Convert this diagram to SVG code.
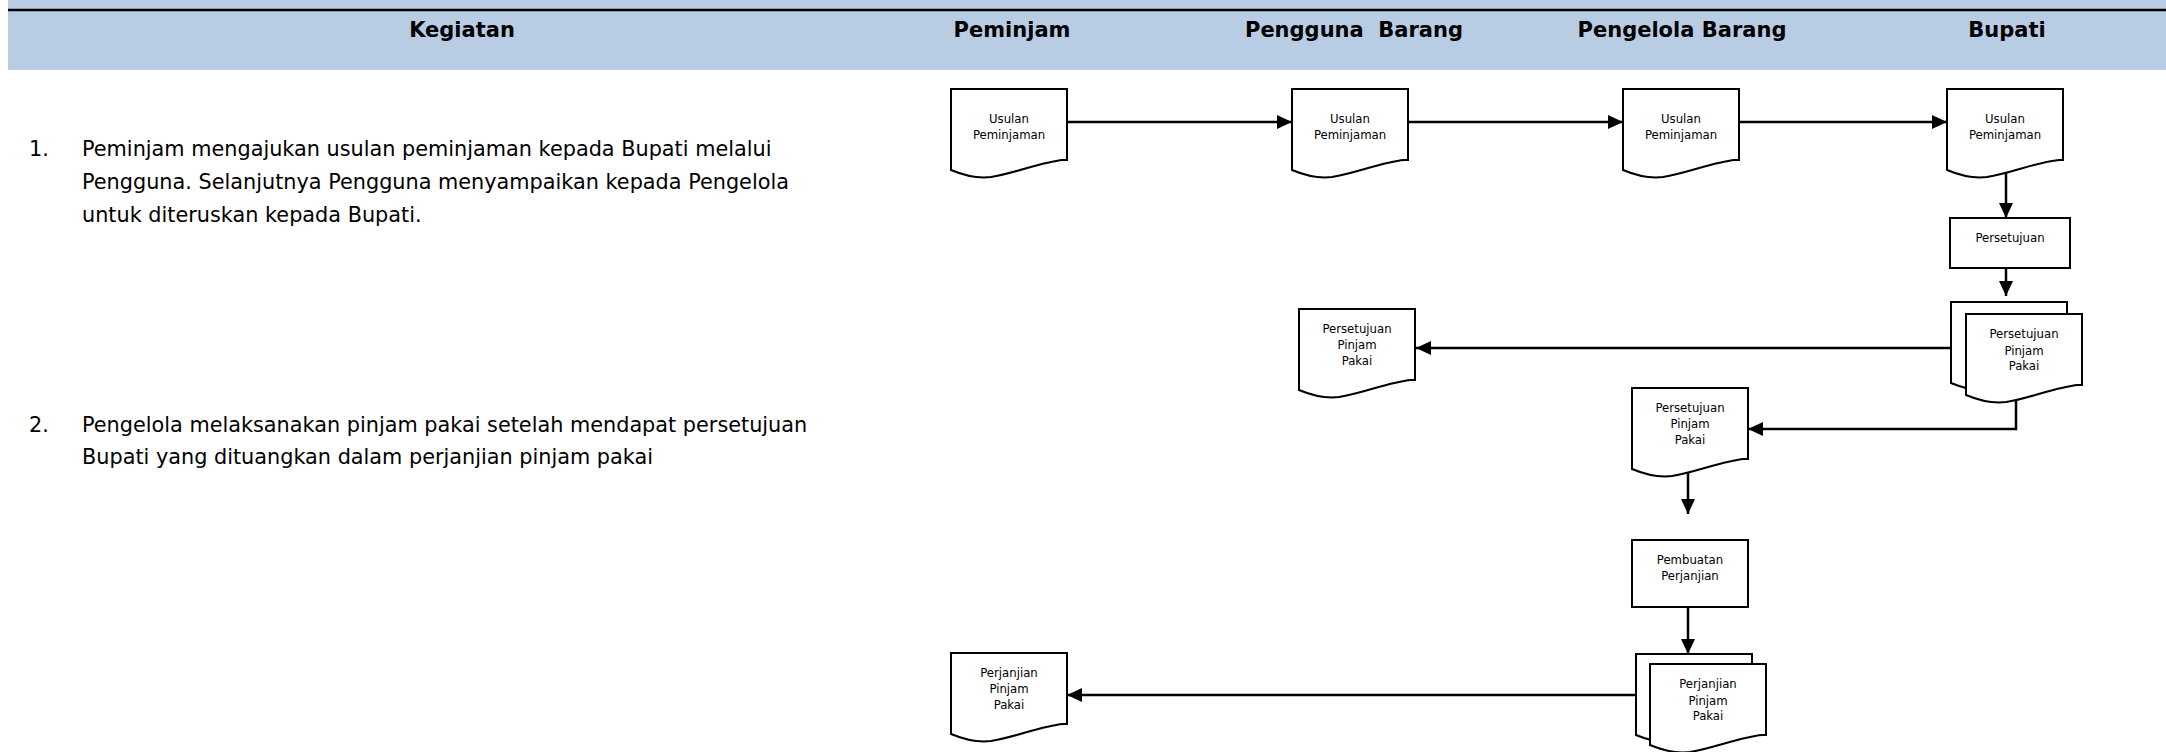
<svg xmlns="http://www.w3.org/2000/svg" xmlns:xlink="http://www.w3.org/1999/xlink" width="2166" height="752" viewBox="0 0 2166 752">
  <style>
    .band { fill: #B8CCE4; }
    .rule { stroke: #000; stroke-width: 2.5; }
    .head { font-family: "DejaVu Sans", Verdana, sans-serif; font-weight: bold; font-size: 21px; fill: #000; text-anchor: middle; }
    .body { font-family: "DejaVu Sans", Verdana, sans-serif; font-size: 20.8px; fill: #000; }
    .shape { fill: #fff; stroke: #000; stroke-width: 2; }
    .lbl { font-family: "DejaVu Sans Condensed", "DejaVu Sans", sans-serif; font-stretch: condensed; font-size: 13px; fill: #000; text-anchor: middle; }
    .conn { fill: none; stroke: #000; stroke-width: 2.5; }
  </style>
  <defs>
    <!-- flowchart "document" symbol, 116 wide, wavy bottom edge -->
    <path id="doc" d="M0,0 H116 V71 H112 C90,73 65,84 40,88 C25,90 12,86 0,81 Z"/>
    <marker id="arrow" markerUnits="userSpaceOnUse" markerWidth="16" markerHeight="14" refX="15" refY="7" orient="auto">
      <path d="M0,0 L15,7 L0,14 Z" fill="#000"/>
    </marker>
  </defs>

  <rect width="2166" height="752" fill="#fff"/>

  <!-- column headers -->
  <g id="header">
    <rect class="band" x="8" y="0" width="2158" height="70"/>
    <line class="rule" x1="8" y1="10" x2="2166" y2="10"/>
    <text class="head" x="462" y="37">Kegiatan</text>
    <text class="head" x="1012" y="37">Peminjam</text>
    <text class="head" x="1354" y="37" xml:space="preserve">Pengguna  Barang</text>
    <text class="head" x="1682" y="37">Pengelola Barang</text>
    <text class="head" x="2007" y="37">Bupati</text>
  </g>

  <!-- activity descriptions -->
  <g id="kegiatan">
    <text class="body" x="29" y="156">1.</text>
    <text class="body" x="82" y="156">Peminjam mengajukan usulan peminjaman kepada Bupati melalui</text>
    <text class="body" x="82" y="189">Pengguna. Selanjutnya Pengguna menyampaikan kepada Pengelola</text>
    <text class="body" x="82" y="222">untuk diteruskan kepada Bupati.</text>
    <text class="body" x="29" y="432">2.</text>
    <text class="body" x="82" y="432">Pengelola melaksanakan pinjam pakai setelah mendapat persetujuan</text>
    <text class="body" x="82" y="464">Bupati yang dituangkan dalam perjanjian pinjam pakai</text>
  </g>

  <!-- connectors -->
  <g id="connectors">
    <path class="conn" d="M1067,122 H1292" marker-end="url(#arrow)"/>
    <path class="conn" d="M1408,122 H1623" marker-end="url(#arrow)"/>
    <path class="conn" d="M1740,122 H1947" marker-end="url(#arrow)"/>
    <path class="conn" d="M2006,172 V218" marker-end="url(#arrow)"/>
    <path class="conn" d="M2006,268 V296" marker-end="url(#arrow)"/>
    <path class="conn" d="M1951,348 H1416" marker-end="url(#arrow)"/>
    <path class="conn" d="M2016,396 V429 H1748" marker-end="url(#arrow)"/>
    <path class="conn" d="M1688,470 V514" marker-end="url(#arrow)"/>
    <path class="conn" d="M1688,607 V654" marker-end="url(#arrow)"/>
    <path class="conn" d="M1636,695 H1067" marker-end="url(#arrow)"/>
  </g>

  <!-- nodes -->
  <g id="usulan-peminjam">
    <use xlink:href="#doc" class="shape" x="951" y="89"/>
    <text class="lbl" x="1009" y="123">Usulan</text>
    <text class="lbl" x="1009" y="139">Peminjaman</text>
  </g>
  <g id="usulan-pengguna">
    <use xlink:href="#doc" class="shape" x="1292" y="89"/>
    <text class="lbl" x="1350" y="123">Usulan</text>
    <text class="lbl" x="1350" y="139">Peminjaman</text>
  </g>
  <g id="usulan-pengelola">
    <use xlink:href="#doc" class="shape" x="1623" y="89"/>
    <text class="lbl" x="1681" y="123">Usulan</text>
    <text class="lbl" x="1681" y="139">Peminjaman</text>
  </g>
  <g id="usulan-bupati">
    <use xlink:href="#doc" class="shape" x="1947" y="89"/>
    <text class="lbl" x="2005" y="123">Usulan</text>
    <text class="lbl" x="2005" y="139">Peminjaman</text>
  </g>
  <g id="persetujuan">
    <rect class="shape" x="1950" y="218" width="120" height="50"/>
    <text class="lbl" x="2010" y="242">Persetujuan</text>
  </g>
  <g id="persetujuan-bupati">
    <use xlink:href="#doc" class="shape" x="1951" y="302"/>
    <use xlink:href="#doc" class="shape" x="1966" y="314"/>
    <text class="lbl" x="2024" y="338">Persetujuan</text>
    <text class="lbl" x="2024" y="355">Pinjam</text>
    <text class="lbl" x="2024" y="370">Pakai</text>
  </g>
  <g id="persetujuan-pengguna">
    <use xlink:href="#doc" class="shape" x="1299" y="309"/>
    <text class="lbl" x="1357" y="333">Persetujuan</text>
    <text class="lbl" x="1357" y="349">Pinjam</text>
    <text class="lbl" x="1357" y="365">Pakai</text>
  </g>
  <g id="persetujuan-pengelola">
    <use xlink:href="#doc" class="shape" x="1632" y="388"/>
    <text class="lbl" x="1690" y="412">Persetujuan</text>
    <text class="lbl" x="1690" y="428">Pinjam</text>
    <text class="lbl" x="1690" y="444">Pakai</text>
  </g>
  <g id="pembuatan-perjanjian">
    <rect class="shape" x="1632" y="540" width="116" height="67"/>
    <text class="lbl" x="1690" y="564">Pembuatan</text>
    <text class="lbl" x="1690" y="580">Perjanjian</text>
  </g>
  <g id="perjanjian-pengelola">
    <use xlink:href="#doc" class="shape" x="1636" y="654"/>
    <use xlink:href="#doc" class="shape" x="1650" y="664"/>
    <text class="lbl" x="1708" y="688">Perjanjian</text>
    <text class="lbl" x="1708" y="705">Pinjam</text>
    <text class="lbl" x="1708" y="720">Pakai</text>
  </g>
  <g id="perjanjian-peminjam">
    <use xlink:href="#doc" class="shape" x="951" y="653"/>
    <text class="lbl" x="1009" y="677">Perjanjian</text>
    <text class="lbl" x="1009" y="693">Pinjam</text>
    <text class="lbl" x="1009" y="709">Pakai</text>
  </g>
</svg>
